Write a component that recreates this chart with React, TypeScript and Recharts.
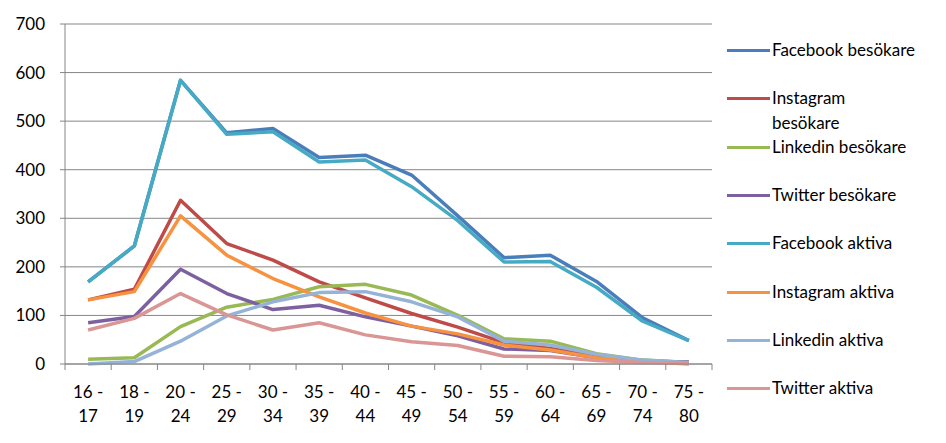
import React from "react";
import { LineChart, Line, XAxis, YAxis, CartesianGrid } from "recharts";

const categories = ["16 - 17", "18 - 19", "20 - 24", "25 - 29", "30 - 34", "35 - 39", "40 - 44", "45 - 49", "50 - 54", "55 - 59", "60 - 64", "65 - 69", "70 - 74", "75 - 80"];

const facebookBesokare = [169, 243, 584, 476, 485, 425, 430, 389, 305, 219, 224, 170, 95, 48];
const instagramBesokare = [132, 154, 337, 248, 214, 169, 136, 104, 76, 44, 32, 16, 7, 3];
const linkedinBesokare = [10, 13, 77, 117, 133, 159, 164, 142, 100, 52, 47, 21, 8, 3];
const twitterBesokare = [85, 98, 195, 145, 112, 121, 97, 78, 58, 31, 28, 13, 5, 4];
const facebookAktiva = [169, 243, 584, 473, 478, 416, 420, 365, 295, 210, 211, 158, 88, 48];
const instagramAktiva = [132, 149, 305, 224, 176, 138, 105, 78, 62, 39, 29, 13, 5, 0];
const linkedinAktiva = [0, 5, 47, 99, 128, 147, 149, 128, 97, 47, 39, 20, 8, 3];
const twitterAktiva = [70, 94, 145, 101, 70, 85, 60, 46, 38, 16, 15, 7, 3, 2];

const yTicks = [0, 100, 200, 300, 400, 500, 600, 700];

const series = [
  { key: "fbB", name: "Facebook besökare", color: "#4A7EBB", values: facebookBesokare },
  { key: "igB", name: "Instagram besökare", color: "#BE4B48", values: instagramBesokare, wrap: true },
  { key: "liB", name: "Linkedin besökare", color: "#98B954", values: linkedinBesokare },
  { key: "twB", name: "Twitter besökare", color: "#7D60A0", values: twitterBesokare },
  { key: "fbA", name: "Facebook aktiva", color: "#46AAC5", values: facebookAktiva },
  { key: "igA", name: "Instagram aktiva", color: "#F69240", values: instagramAktiva },
  { key: "liA", name: "Linkedin aktiva", color: "#95B3D7", values: linkedinAktiva },
  { key: "twA", name: "Twitter aktiva", color: "#D99694", values: twitterAktiva },
];

const data = categories.map((cat, i) => {
  const row: Record<string, any> = { cat };
  series.forEach((s) => {
    row[s.key] = s.values[i];
  });
  return row;
});

const FONT = "Lato, 'Noto Sans', sans-serif";

const XTick = (props: any) => {
  const { x, y, payload, index } = props;
  const half = payload.offset || 0;
  const parts = String(payload.value).split(" - ");
  const isLast = index === categories.length - 1;
  return (
    <g>
      <line x1={x - half} x2={x - half} y1={y} y2={y + 6} stroke="#868686" />
      {isLast && <line x1={x + half} x2={x + half} y1={y} y2={y + 6} stroke="#868686" />}
      <text x={x} y={y} textAnchor="middle" fontSize={17} fill="#000" fontFamily={FONT}>
        <tspan x={x} dy={34}>{parts[0] + " -"}</tspan>
        <tspan x={x} dy={24}>{parts[1]}</tspan>
      </text>
    </g>
  );
};

export default function App() {
  return (
    <div style={{ position: "absolute", left: 0, top: 0, width: 946, height: 443, background: "#fff", fontFamily: FONT }}>
      <LineChart
        width={946}
        height={443}
        data={data}
        margin={{ top: 24, right: 234, bottom: 19, left: 0 }}
      >
        <CartesianGrid vertical={false} stroke="#868686" />
        <XAxis
          dataKey="cat"
          scale="band"
          interval={0}
          tickLine={false}
          tickSize={0}
          tickMargin={0}
          axisLine={{ stroke: "#868686" }}
          tick={<XTick />}
          height={60}
        />
        <YAxis
          domain={[0, 700]}
          ticks={yTicks}
          interval={0}
          width={65}
          tickSize={5}
          tickMargin={15}
          axisLine={{ stroke: "#868686" }}
          tickLine={{ stroke: "#868686" }}
          tick={{ fontSize: 17, fill: "#000", fontFamily: FONT }}
        />
        {series.map((s) => (
          <Line
            key={s.key}
            dataKey={s.key}
            name={s.name}
            stroke={s.color}
            strokeWidth={3.5}
            dot={false}
            activeDot={false}
            isAnimationActive={false}
            strokeLinejoin="round"
          />
        ))}
      </LineChart>
      <div style={{ position: "absolute", left: 727, top: 0 }}>
        {series.map((s, i) => (
          <div
            key={s.key}
            style={{
              position: "absolute",
              top: 50 + i * 48.3 - 10,
              left: 0,
              display: "flex",
              alignItems: "flex-start",
              whiteSpace: "nowrap",
            }}
          >
            <div style={{ width: 43, height: 3, background: s.color, marginTop: 9, marginRight: 2 }} />
            <div style={{ fontSize: 17, lineHeight: "25px", marginTop: -3, color: "#000", whiteSpace: s.wrap ? "normal" : "nowrap", width: s.wrap ? 110 : undefined }}>
              {s.name}
            </div>
          </div>
        ))}
      </div>
    </div>
  );
}
